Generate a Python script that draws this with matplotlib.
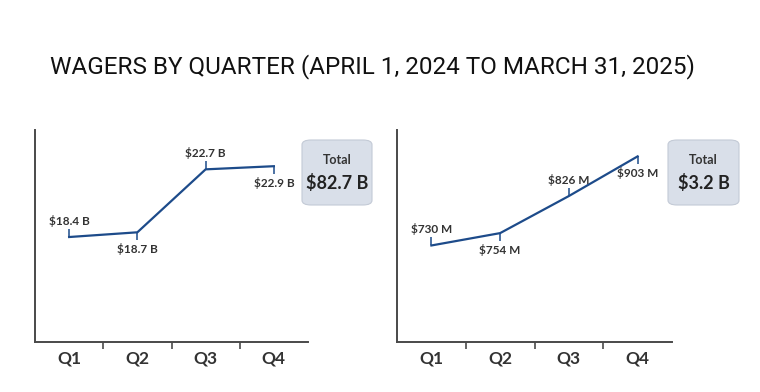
import matplotlib
matplotlib.use('Agg')
import matplotlib.pyplot as plt
from matplotlib.path import Path
from matplotlib.patches import FancyBboxPatch

# data
quarters = ['Q1', 'Q2', 'Q3', 'Q4']
wagers_b = [18.4, 18.7, 22.7, 22.9]          # left panel, $ billions
wagers_b_labels = ['$18.4 B', '$18.7 B', '$22.7 B', '$22.9 B']
wagers_m = [730, 754, 826, 903]              # right panel, $ millions
wagers_m_labels = ['$730 M', '$754 M', '$826 M', '$903 M']
totals = ['$82.7 B', '$3.2 B']
label_side = ['up', 'down', 'up', 'down']

title = 'WAGERS BY QUARTER (APRIL 1, 2024 TO MARCH 31, 2025)'

line_color = '#1d4b8a'
text_color = '#333333'
axis_color = '#4a4a4a'

tick_up = Path([(0, 0), (0, 1)], [Path.MOVETO, Path.LINETO])
tick_down = Path([(0, 0), (0, -1)], [Path.MOVETO, Path.LINETO])

fig = plt.figure(figsize=(7.6, 3.92), dpi=100)
fig.patch.set_facecolor('white')

fig.text(50 / 760, 1 - 67 / 392, title, fontsize=17.5, family='Roboto',
         color='#111111', va='center', ha='left')


def draw_panel(rect, values, labels, ylim, box_rect, total):
    ax = fig.add_axes(rect)
    x = list(range(len(values)))
    ax.plot(x, values, color=line_color, lw=1.6, solid_joinstyle='round')
    for i, v in enumerate(values):
        up = label_side[i] == 'up'
        ax.plot(i, v, marker=tick_up if up else tick_down, ms=12,
                mec=line_color, mew=1.1, ls='none')
        ax.annotate(labels[i], (i, v), xytext=(0, 7.5 if up else -7.5),
                    textcoords='offset points', ha='center',
                    va='bottom' if up else 'top', fontsize=8.5,
                    family='Lato', weight='bold', color=text_color)
    ax.set_xlim(-0.5, len(values) - 0.5)
    ax.set_ylim(*ylim)
    for s in ['top', 'right']:
        ax.spines[s].set_visible(False)
    for s in ['left', 'bottom']:
        ax.spines[s].set_color(axis_color)
        ax.spines[s].set_linewidth(1.4)
    ax.set_yticks([])
    # category names sit between the boundary ticks
    ax.set_xticks([i + 0.5 for i in x[:-1]])
    ax.set_xticklabels([])
    ax.tick_params(axis='x', length=5, width=1.2, color=axis_color)
    ax.set_xticks(x, minor=True)
    ax.set_xticklabels(quarters, minor=True, fontsize=12.5, family='Lato',
                       weight='bold', color=text_color)
    ax.tick_params(axis='x', which='minor', length=0, pad=6)

    bx, by, bw, bh = box_rect
    box = FancyBboxPatch((bx, by), bw, bh, boxstyle='round,pad=0,rounding_size=0.012',
                         transform=fig.transFigure, fc='#d9dfe9', ec='#c3cad6',
                         lw=0.8, figure=fig)
    fig.patches.append(box)
    fig.text(bx + bw / 2, by + bh * 0.69, 'Total', ha='center', va='center',
             fontsize=9, family='Lato', weight='bold', color=text_color)
    fig.text(bx + bw / 2, by + bh * 0.34, total, ha='center', va='center',
             fontsize=13, family='Lato', weight='bold', color='#222222')
    return ax


draw_panel([35 / 760, 1 - 342 / 392, 273 / 760, 212 / 392], wagers_b,
           wagers_b_labels, (11.73, 25.2),
           (302 / 760, 1 - 205 / 392, 70 / 760, 65 / 392), totals[0])
draw_panel([397 / 760, 1 - 342 / 392, 275 / 760, 212 / 392], wagers_m,
           wagers_m_labels, (542.6, 954.2),
           (668 / 760, 1 - 205 / 392, 71 / 760, 65 / 392), totals[1])

fig.savefig('out.png', dpi=100)
